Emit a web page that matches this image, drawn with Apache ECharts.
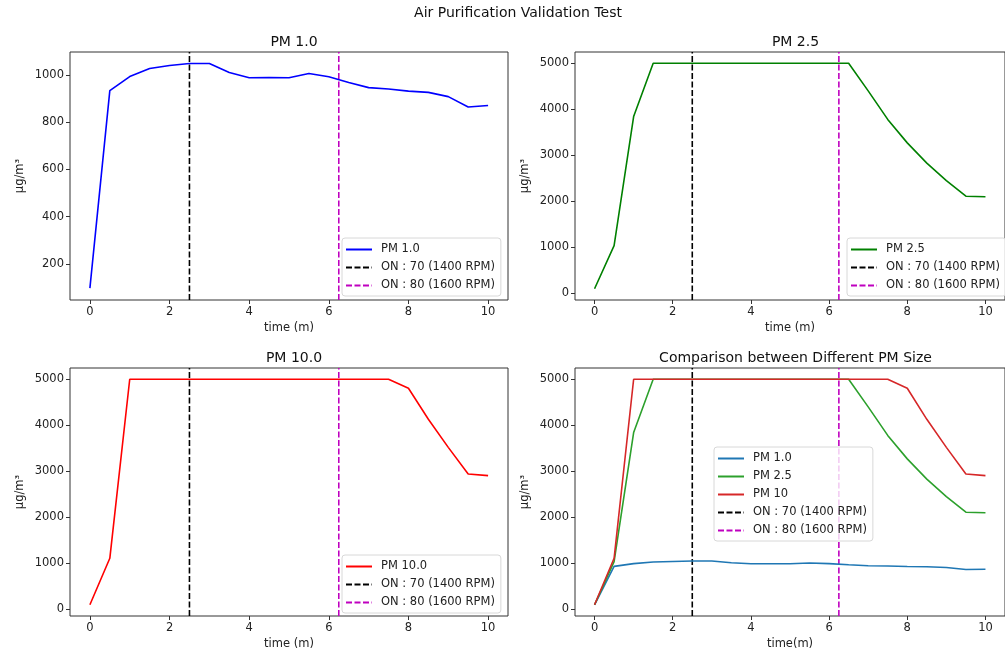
<!DOCTYPE html>
<html>
<head>
<meta charset="utf-8">
<script src="https://cdn.jsdelivr.net/npm/echarts@6/dist/echarts.min.js"></script>
<style>
html, body { margin: 0; padding: 0; background: #fff; }
#chart { width: 1005px; height: 659px; }
</style>
</head>
<body>
<div id="chart"></div>
<script>
// readings every 30 s
var time = [0, 0.5, 1, 1.5, 2, 2.5, 3, 3.5, 4, 4.5, 5, 5.5, 6, 6.5, 7, 7.5, 8, 8.5, 9, 9.5, 10];
var pm1 = [97, 934, 994, 1028, 1041, 1049, 1049, 1011, 989, 990, 989, 1007, 993, 969, 947, 941, 932, 927, 909, 865, 871];
var pm25 = [100, 1036, 3841, 5000, 5000, 5000, 5000, 5000, 5000, 5000, 5000, 5000, 5000, 5000, 4400, 3780, 3270, 2830, 2450, 2110, 2100];
var pm10 = [100, 1109, 5000, 5000, 5000, 5000, 5000, 5000, 5000, 5000, 5000, 5000, 5000, 5000, 5000, 5000, 4804, 4130, 3520, 2942, 2906];
var fanOn70 = 2.5;
var fanOn80 = 6.25;
var xTicks = [0, 2, 4, 6, 8, 10];
var yTicksPm1 = [200, 400, 600, 800, 1000];
var yTicksBig = [0, 1000, 2000, 3000, 4000, 5000];

var TXT = "#222";
var FONT = "DejaVu Sans";

function pairs(ys) {
  return time.map(function (t, i) { return [t, ys[i]]; });
}

var panels = [
  { left: 70, top: 52, width: 438, height: 248, yMin: 47, yMax: 1098, yTicks: yTicksPm1,
    title: "PM 1.0", xName: "time (m)", legend: { left: 342, top: 238 },
    lines: [{ name: "PM 1.0", data: pm1, color: "#0000ff" }] },
  { left: 575, top: 52, width: 437, height: 248, yMin: -145, yMax: 5245, yTicks: yTicksBig,
    title: "PM 2.5", xName: "time (m)", legend: { left: 847, top: 238 },
    lines: [{ name: "PM 2.5", data: pm25, color: "#008000" }] },
  { left: 70, top: 368, width: 438, height: 248, yMin: -145, yMax: 5245, yTicks: yTicksBig,
    title: "PM 10.0", xName: "time (m)", legend: { left: 342, top: 555 },
    lines: [{ name: "PM 10.0", data: pm10, color: "#ff0000" }] },
  { left: 575, top: 368, width: 437, height: 248, yMin: -145, yMax: 5245, yTicks: yTicksBig,
    title: "Comparison between Different PM Size", xName: "time(m)", legend: { left: 714, top: 447 },
    lines: [
      { name: "PM 1.0", data: pm1, color: "#1f77b4" },
      { name: "PM 2.5", data: pm25, color: "#2ca02c" },
      { name: "PM 10", data: pm10, color: "#d62728" }
    ] }
];

var option = {
  backgroundColor: "#fff",
  animation: false,
  textStyle: { fontFamily: FONT },
  title: [{
    text: "Air Purification Validation Test",
    left: 513, top: 1, textAlign: "center",
    textStyle: { fontSize: 14, fontWeight: "normal", color: "#111", fontFamily: FONT }
  }],
  grid: [], xAxis: [], yAxis: [], legend: [], series: []
};

function plain(v) { return String(v); }

panels.forEach(function (p, k) {
  option.grid.push({
    left: p.left, top: p.top, width: p.width, height: p.height,
    show: true, borderColor: "#333", borderWidth: 1, backgroundColor: "transparent"
  });
  option.title.push({
    text: p.title, left: p.left + p.width / 2 - (k % 2 ? 3 : 0), top: p.top - 22, textAlign: "center",
    textStyle: { fontSize: 14, fontWeight: "normal", color: "#111", fontFamily: FONT }
  });
  option.xAxis.push({
    type: "value", gridIndex: k, min: -0.5, max: 10.5,
    name: p.xName, nameLocation: "middle", nameGap: 22,
    nameTextStyle: { fontSize: 11.5, color: TXT, fontFamily: FONT },
    axisLine: { show: false, onZero: false },
    axisTick: { show: true, length: 4, customValues: xTicks, lineStyle: { color: "#333" } },
    axisLabel: { customValues: xTicks, formatter: plain, fontSize: 11.5, color: TXT, margin: 6, fontFamily: FONT },
    splitLine: { show: false }
  });
  option.yAxis.push({
    type: "value", gridIndex: k, min: p.yMin, max: p.yMax,
    name: "μg/m³", nameLocation: "middle", nameGap: 44, nameRotate: 90,
    nameTextStyle: { fontSize: 11.5, color: TXT, fontFamily: FONT },
    axisLine: { show: false, onZero: false },
    axisTick: { show: true, length: 4, customValues: p.yTicks, lineStyle: { color: "#333" } },
    axisLabel: { customValues: p.yTicks, formatter: plain, fontSize: 11.5, color: TXT, margin: 6, fontFamily: FONT },
    splitLine: { show: false }
  });

  var names = [];
  p.lines.forEach(function (l) {
    var nm = k + "|" + l.name;
    names.push(nm);
    option.series.push({
      name: nm, type: "line", xAxisIndex: k, yAxisIndex: k,
      data: pairs(l.data), symbol: "none",
      lineStyle: { color: l.color, width: 1.6 }, itemStyle: { color: l.color }
    });
  });
  [[fanOn70, "ON : 70 (1400 RPM)", "#000000"], [fanOn80, "ON : 80 (1600 RPM)", "#bf00bf"]].forEach(function (v) {
    var nm = k + "|" + v[1];
    names.push(nm);
    option.series.push({
      name: nm, type: "line", xAxisIndex: k, yAxisIndex: k,
      data: [[v[0], p.yMin], [v[0], p.yMax]], symbol: "none", z: 1,
      lineStyle: { color: v[2], width: 1.6, type: [6, 2.5] }, itemStyle: { color: v[2] }
    });
  });

  option.legend.push({
    data: names, orient: "vertical", left: p.legend.left, top: p.legend.top,
    itemWidth: 26, itemHeight: 12, itemGap: 5, padding: [5, 6, 4, 3],
    backgroundColor: "rgba(255,255,255,0.8)", borderColor: "#d8d8d8", borderWidth: 1, borderRadius: 3,
    itemStyle: { opacity: 0 },
    formatter: function (n) { return n.split("|")[1]; },
    textStyle: { fontSize: 11.5, color: TXT, fontFamily: FONT, lineHeight: 13, padding: [0, 0, 0, 4] },
    selectedMode: false
  });
});

var myChart = echarts.init(document.getElementById("chart"));
myChart.setOption(option);
</script>
</body>
</html>
